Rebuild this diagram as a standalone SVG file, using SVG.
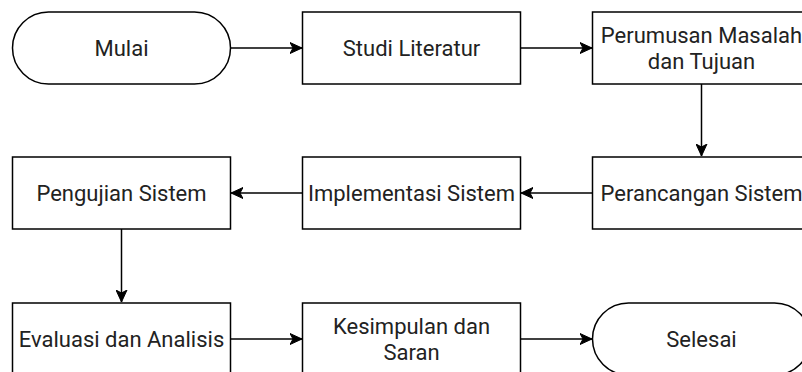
<svg xmlns="http://www.w3.org/2000/svg" width="802" height="372" viewBox="0 0 802 372">
<style>
.n{fill:#fff;stroke:#000;stroke-width:1.5}
.t{font-family:Roboto,"Liberation Sans",Arial,sans-serif;font-size:22px;fill:#222;text-anchor:middle}
.e{fill:none;stroke:#000;stroke-width:1.5}
</style>
<defs>
<marker id="ah" markerUnits="userSpaceOnUse" viewBox="0 -6 13 12" refX="12" refY="0" markerWidth="13" markerHeight="12" orient="auto">
<path d="M0,-5.5 L12,0 L0,5.5 L3,0 Z" fill="#000" stroke="#000" stroke-width="1"/>
</marker>
</defs>
<rect width="802" height="372" fill="#fff"/>
<g id="edges">
<path class="e" d="M230.5,48 H302" marker-end="url(#ah)"/>
<path class="e" d="M520.5,48 H592" marker-end="url(#ah)"/>
<path class="e" d="M701.5,84 V156" marker-end="url(#ah)"/>
<path class="e" d="M592.5,193 H521" marker-end="url(#ah)"/>
<path class="e" d="M302.5,193 H231" marker-end="url(#ah)"/>
<path class="e" d="M121.5,229 V302" marker-end="url(#ah)"/>
<path class="e" d="M230.5,339 H302" marker-end="url(#ah)"/>
<path class="e" d="M520.5,339 H592" marker-end="url(#ah)"/>
</g>
<g id="mulai">
<rect class="n" x="12.5" y="12" width="218" height="72" rx="36" ry="36"/>
<text class="t" x="121.5" y="55.8">Mulai</text>
</g>
<g id="studi">
<rect class="n" x="302.5" y="12" width="218" height="72"/>
<text class="t" x="411.5" y="55.8">Studi Literatur</text>
</g>
<g id="perumusan">
<rect class="n" x="592.5" y="12" width="218" height="72"/>
<text class="t" x="701.5" y="42.6">Perumusan Masalah</text>
<text class="t" x="701.5" y="69">dan Tujuan</text>
</g>
<g id="perancangan">
<rect class="n" x="592.5" y="157" width="218" height="72"/>
<text class="t" x="701.5" y="200.8">Perancangan Sistem</text>
</g>
<g id="implementasi">
<rect class="n" x="302.5" y="157" width="218" height="72"/>
<text class="t" x="411.5" y="200.8">Implementasi Sistem</text>
</g>
<g id="pengujian">
<rect class="n" x="12.5" y="157" width="218" height="72"/>
<text class="t" x="121.5" y="200.8">Pengujian Sistem</text>
</g>
<g id="evaluasi">
<rect class="n" x="12.5" y="303" width="218" height="72"/>
<text class="t" x="121.5" y="346.8">Evaluasi dan Analisis</text>
</g>
<g id="kesimpulan">
<rect class="n" x="302.5" y="303" width="218" height="72"/>
<text class="t" x="411.5" y="333.6">Kesimpulan dan</text>
<text class="t" x="411.5" y="360">Saran</text>
</g>
<g id="selesai">
<rect class="n" x="592.5" y="303" width="218" height="72" rx="36" ry="36"/>
<text class="t" x="701.5" y="346.8">Selesai</text>
</g>
</svg>
